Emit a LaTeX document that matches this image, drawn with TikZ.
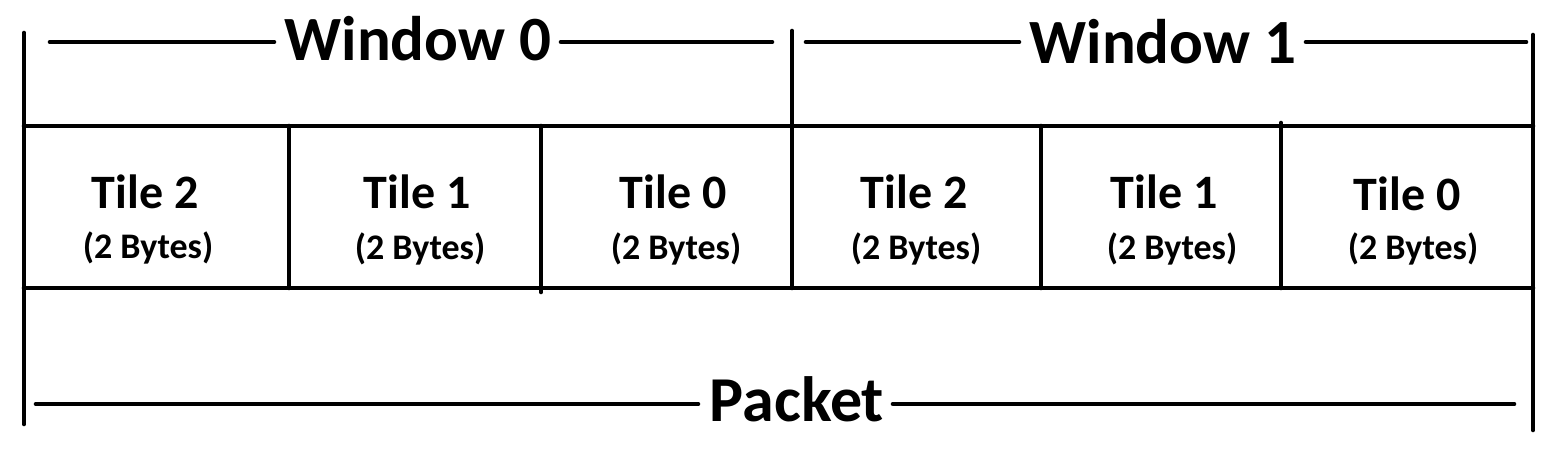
\documentclass[tikz,border=0pt]{standalone}
\usepackage{fontspec}
\setmainfont{Carlito}
\begin{document}
\begin{tikzpicture}[x=0.5pt,y=-0.5pt,line width=2.3pt,line cap=round,
  big/.style={font=\bfseries\fontsize{31.5}{32}\selectfont,anchor=base,inner sep=0pt},
  pk/.style={font=\bfseries\fontsize{32}{32}\selectfont,anchor=base,inner sep=0pt},
  tile/.style={font=\bfseries\fontsize{24}{24}\selectfont,anchor=base,inner sep=0pt},
  bytes/.style={font=\bfseries\fontsize{18}{18}\selectfont,anchor=base,inner sep=0pt}]
\useasboundingbox (0,0) rectangle (1561,455);
% titles
\node[big] (W0) at (418,60) {Window 0};
\node[big] (W1) at (1163,63) {Window 1};
\node[pk] (P) at (797,421) {Packet};
% title rule ends
\coordinate (w0a) at (50,42);  \coordinate (w0b) at (274,42);
\coordinate (w0c) at (561,42); \coordinate (w0d) at (772,42);
\coordinate (w1a) at (806,42); \coordinate (w1b) at (1019,42);
\coordinate (w1c) at (1306,42); \coordinate (w1d) at (1526,42);
\coordinate (pa) at (36,404);  \coordinate (pb) at (698,404);
\coordinate (pc) at (893,404); \coordinate (pd) at (1514,404);
\draw (w0a) -- (w0b); \draw (w0c) -- (w0d);
\draw (w1a) -- (w1b); \draw (w1c) -- (w1d);
\draw (pa) -- (pb); \draw (pc) -- (pd);
% frame
\coordinate (lt) at (24,33);  \coordinate (lb) at (24,424);
\coordinate (mt) at (792,31); \coordinate (mb) at (792,288);
\coordinate (rt) at (1533,35); \coordinate (rb) at (1533,430);
\draw (lt) -- (lb);
\draw (mt) -- (mb);
\draw (rt) -- (rb);
\draw (24,126) -- (1533,126);
\draw (24,288) -- (1533,288);
\foreach \x/\t/\b in {289/126/288, 541/126/292, 1041/126/288, 1281/123/288}
  \draw (\x,\t) -- (\x,\b);
% tiles
\node[tile] (t2a) at (145,208) {Tile 2};
\node[bytes] (b2a) at (148,258) {(2 Bytes)};
\node[tile] (t1a) at (417,208) {Tile 1};
\node[bytes] (b1a) at (420,259) {(2 Bytes)};
\node[tile] (t0a) at (673,208) {Tile 0};
\node[bytes] (b0a) at (676,259) {(2 Bytes)};
\node[tile] (t2b) at (914,208) {Tile 2};
\node[bytes] (b2b) at (916,259) {(2 Bytes)};
\node[tile] (t1b) at (1164,208) {Tile 1};
\node[bytes] (b1b) at (1172,259) {(2 Bytes)};
\node[tile] (t0b) at (1407,210) {Tile 0};
\node[bytes] (b0b) at (1413,259) {(2 Bytes)};
\end{tikzpicture}
\end{document}
